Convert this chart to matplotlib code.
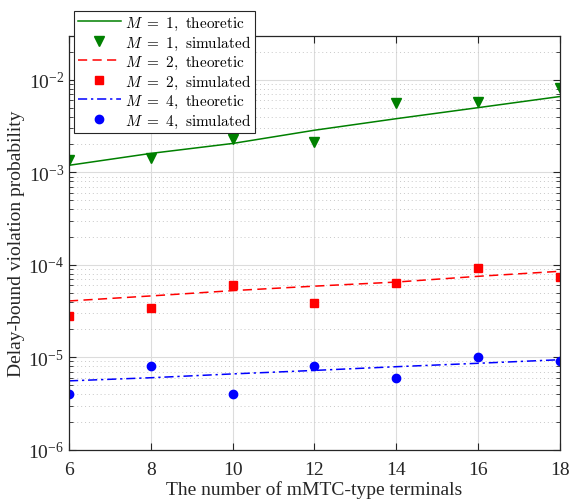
import matplotlib
matplotlib.use("Agg")
import matplotlib.pyplot as plt
from matplotlib.font_manager import FontProperties
from matplotlib.ticker import LogLocator, NullFormatter

plt.rcParams["font.family"] = ["Liberation Serif", "DejaVu Serif"]
plt.rcParams["mathtext.fontset"] = "custom"
plt.rcParams["mathtext.rm"] = "Liberation Serif"

terminals = [6, 8, 10, 12, 14, 16, 18]

m1_theory = [1.19e-3, 1.6e-3, 2.05e-3, 2.85e-3, 3.8e-3, 5.0e-3, 6.6e-3]
m1_sim = [1.35e-3, 1.43e-3, 2.27e-3, 2.1e-3, 5.58e-3, 5.7e-3, 8.1e-3]
m2_theory = [4.06e-5, 4.6e-5, 5.25e-5, 5.87e-5, 6.5e-5, 7.5e-5, 8.5e-5]
m2_sim = [2.79e-5, 3.38e-5, 6.0e-5, 3.86e-5, 6.3e-5, 9.3e-5, 7.35e-5]
m4_theory = [5.55e-6, 6.0e-6, 6.6e-6, 7.2e-6, 7.9e-6, 8.6e-6, 9.4e-6]
m4_sim = [4.0e-6, 8.06e-6, 4.0e-6, 8.0e-6, 6.0e-6, 1.01e-5, 9.1e-6]

green = "#008000"
red = "#ff0000"
blue = "#0000ff"

fig = plt.figure(figsize=(5.72, 5.02), dpi=100)
ax = fig.add_axes([0.1206, 0.1022, 0.979 - 0.1206, 0.9269 - 0.1022])

ax.semilogy(terminals, m1_theory, "-", color=green, lw=1.1,
            label=r"$M\ =\ 1,\ \mathrm{theoretic}$")
ax.semilogy(terminals, m1_sim, "v", color=green, ms=7, ls="none",
            label=r"$M\ =\ 1,\ \mathrm{simulated}$")
ax.semilogy(terminals, m2_theory, "--", color=red, lw=1.1, dashes=(6, 3.5),
            label=r"$M\ =\ 2,\ \mathrm{theoretic}$")
ax.semilogy(terminals, m2_sim, "s", color=red, ms=5.5, ls="none",
            label=r"$M\ =\ 2,\ \mathrm{simulated}$")
ax.semilogy(terminals, m4_theory, "-.", color=blue, lw=1.1, dashes=(6, 2.5, 1.5, 2.5),
            label=r"$M\ =\ 4,\ \mathrm{theoretic}$")
ax.semilogy(terminals, m4_sim, "o", color=blue, ms=6, ls="none",
            label=r"$M\ =\ 4,\ \mathrm{simulated}$")

ax.set_xlim(6, 18)
ax.set_ylim(1e-6, 3e-2)
ax.set_xticks([6, 8, 10, 12, 14, 16, 18])
ax.yaxis.set_major_locator(LogLocator(base=10, numticks=10))
ax.yaxis.set_minor_locator(LogLocator(base=10, subs=range(2, 10), numticks=20))
ax.yaxis.set_minor_formatter(NullFormatter())

ax.grid(True, which="major", color="#dcdcdc", lw=0.8)
ax.grid(True, which="minor", axis="y", color="#c8c8c8", lw=0.7, ls=(0, (1, 3)))
ax.set_axisbelow(True)

ax.tick_params(which="both", direction="in", top=True, right=True,
               labelsize=14, colors="#262626", labelcolor="#262626")
ax.tick_params(which="major", length=5)
ax.tick_params(which="minor", length=3)
ax.tick_params(axis="x", pad=8)
for s in ax.spines.values():
    s.set_color("#262626")
    s.set_linewidth(0.9)

ax.set_xlabel("The number of mMTC-type terminals", fontsize=14, color="#262626", labelpad=2)
ax.set_ylabel("Delay-bound violation probability", fontsize=14, color="#262626", labelpad=2)

leg = ax.legend(loc="upper left", bbox_to_anchor=(74 / 572, 1 - 11.7 / 502),
                bbox_transform=fig.transFigure,
                prop=FontProperties(size=11, math_fontfamily="cm"),
                frameon=True, fancybox=False, framealpha=1, edgecolor="#262626",
                handlelength=2.8, handletextpad=0.3, labelspacing=0.12,
                borderpad=0.25, borderaxespad=0)
leg.get_frame().set_linewidth(0.8)

fig.savefig("out.png", dpi=100)
